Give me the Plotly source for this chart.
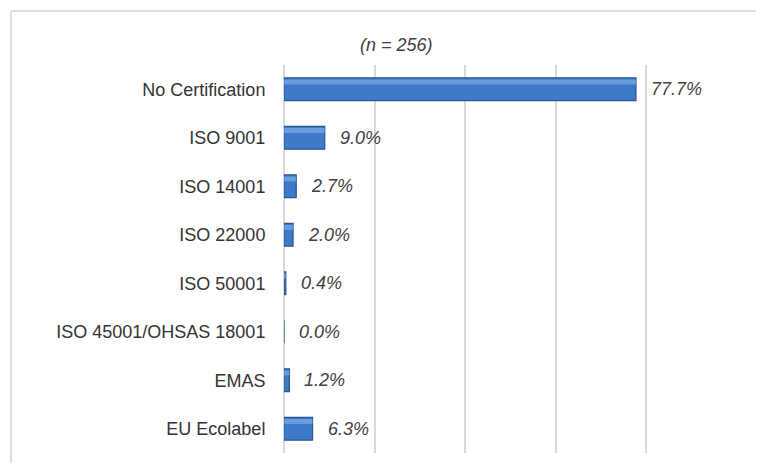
import plotly.graph_objects as go

categories = ["No Certification", "ISO 9001", "ISO 14001", "ISO 22000",
              "ISO 50001", "ISO 45001/OHSAS 18001", "EMAS", "EU Ecolabel"]
values = [77.7, 9.0, 2.7, 2.0, 0.4, 0.0, 1.2, 6.3]
labels = ["77.7%", "9.0%", "2.7%", "2.0%", "0.4%", "0.0%", "1.2%", "6.3%"]
title_text = "(n = 256)"

# page body has an 8px default margin on every side; keep the figure inside the
# window so no scrollbars appear
OFF = 8
W, H = 764 - 2 * OFF, 471 - 2 * OFF
ml, mt = 284 - OFF, 65 - OFF
pw, ph = 453, 388
mr, mb = W - ml - pw, H - mt - ph

FONT = "Liberation Sans, Arial"

fig = go.Figure()
fig.add_trace(go.Bar(
    y=categories, x=values, orientation="h",
    marker=dict(color="#3d7ac9", line=dict(color="#2a5593", width=1.2)),
    width=0.47, hoverinfo="skip", showlegend=False,
))
# highlight band for a bevelled look
fig.add_trace(go.Bar(
    y=categories, x=values, orientation="h",
    marker=dict(color="rgba(140,185,238,0.55)", line=dict(width=0)),
    width=0.1, offset=-0.20, hoverinfo="skip", showlegend=False,
))

for c, v, t in zip(categories, values, labels):
    fig.add_annotation(x=v, y=c, text="<i>" + t + "</i>", showarrow=False,
                       xanchor="left", xshift=13,
                       font=dict(family=FONT, size=18, color="#404040"))

fig.add_annotation(xref="paper", yref="paper",
                   x=(396 - OFF - ml) / pw, y=1 + (mt - (45 - OFF)) / ph,
                   text="<i>" + title_text + "</i>", showarrow=False,
                   xanchor="center", yanchor="middle",
                   font=dict(family=FONT, size=18, color="#404040"))

# chart-area frame: top and left edges only (the rest runs off the picture)
fx0 = (11 - OFF - ml) / pw
fy1 = 1 + (mt - (11 - OFF)) / ph
fig.add_shape(type="line", xref="paper", yref="paper",
              x0=fx0, x1=(W + 20 - ml) / pw, y0=fy1, y1=fy1,
              line=dict(color="#dedede", width=2), layer="below")
fig.add_shape(type="line", xref="paper", yref="paper",
              x0=fx0, x1=fx0, y0=fy1, y1=-(H + 20 - mt - ph) / ph,
              line=dict(color="#dedede", width=2), layer="below")

fig.update_layout(
    width=W, height=H, margin=dict(l=ml, r=mr, t=mt, b=mb, autoexpand=False),
    barmode="overlay", paper_bgcolor="white", plot_bgcolor="white",
    font=dict(family=FONT, size=18, color="#333333"),
    xaxis=dict(range=[0, 100], dtick=20, showticklabels=False, showgrid=True,
               gridcolor="#d9d9d9", gridwidth=2, zeroline=True,
               zerolinecolor="#d9d9d9", zerolinewidth=2, fixedrange=True,
               automargin=False),
    yaxis=dict(categoryorder="array", categoryarray=categories, autorange="reversed",
               showgrid=False, ticks="outside", ticklen=14, automargin=False,
               tickcolor="rgba(0,0,0,0)", tickfont=dict(size=18, color="#333333")),
)

fig.write_html("out.html")
